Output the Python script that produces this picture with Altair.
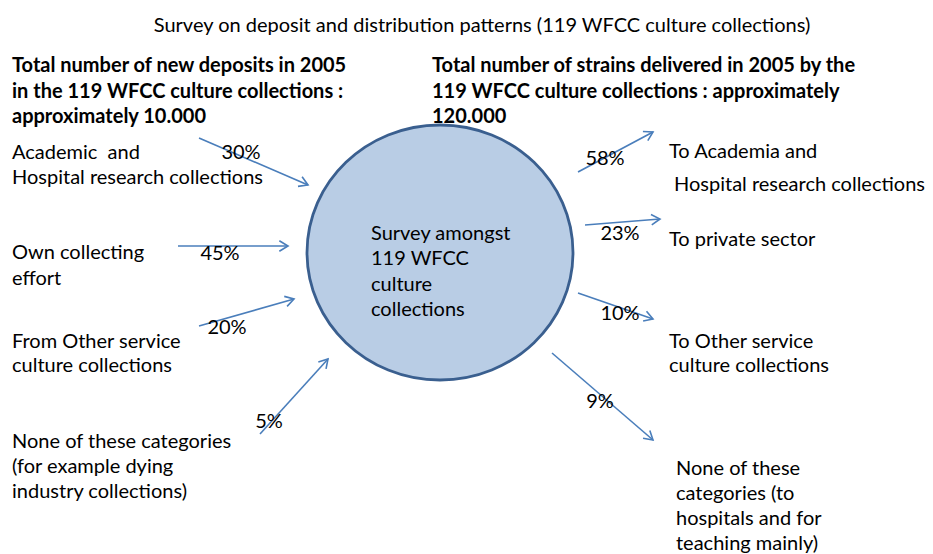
import math
import altair as alt
import pandas as pd

# ---------------- data ----------------
title = "Survey on deposit and distribution patterns (119 WFCC culture collections)"
deposit_heading = [
    "Total number of new deposits in 2005",
    "in the 119 WFCC culture collections :",
    "approximately 10.000",
]
delivery_heading = [
    "Total number of strains delivered in 2005 by the",
    "119 WFCC culture collections : approximately",
    "120.000",
]
center_label = ["Survey amongst", "119 WFCC", "culture", "collections"]

deposit_sources = [
    ["Academic \u00a0and", "Hospital research collections"],
    ["Own collecting", "effort"],
    ["From Other service", "culture collections"],
    ["None of these categories", "(for example dying", "industry collections)"],
]
deposit_share = [30, 45, 20, 5]

delivery_targets = [
    ["To Academia and", "Hospital research collections"],
    ["To private sector"],
    ["To Other service", "culture collections"],
    ["None of these", "categories (to", "hospitals and for", "teaching mainly)"],
]
delivery_share = [58, 23, 10, 9]

# ---------------- layout (page pixels) ----------------
W, H = 917, 546
title_pos = (482, 26)
left_head_pos = (12, 66)
right_head_pos = (432, 66)
head_gap = 25.5
center_pos = (440, 252.5)
center_rx, center_ry = 133, 127.5
center_text_pos = (371, 234)
center_gap = 25.3

dep_label_pos = [[(12, 153), (12, 178)], [(12, 253), (12, 279)],
                 [(12, 342), (12, 366)], [(12, 442), (12, 467), (12, 492)]]
dep_pct_pos = [(241, 153), (220, 254), (227, 328), (269, 422)]
dep_arrow = [((199, 138), (308, 185)), ((178, 246), (288, 246)),
             ((199, 326), (294, 299)), ((260, 434), (328, 359))]

del_label_pos = [[(669, 152), (674, 185)], [(669, 240)],
                 [(669, 342), (669, 366)],
                 [(676, 469), (676, 494), (676, 519), (676, 544)]]
del_pct_pos = [(605, 159), (620, 234), (620, 314), (600, 402)]
del_arrow = [((578, 172), (653, 132)), ((585, 225), (660, 219)),
             ((578, 293), (653, 319)), ((552, 353), (653, 440))]

FONT = "Lato"
BODY = 20.0
ARROW = "#4a7ebb"

# ---------------- tables ----------------
regular_rows = [{"x": title_pos[0], "y": title_pos[1], "t": title, "a": "center"}]
for lines, pos in zip(deposit_sources, dep_label_pos):
    for s, (x, y) in zip(lines, pos):
        regular_rows.append({"x": x, "y": y, "t": s, "a": "left"})
for lines, pos in zip(delivery_targets, del_label_pos):
    for s, (x, y) in zip(lines, pos):
        regular_rows.append({"x": x, "y": y, "t": s, "a": "left"})
for i, s in enumerate(center_label):
    regular_rows.append({"x": center_text_pos[0], "y": center_text_pos[1] + i * center_gap,
                         "t": s, "a": "left"})
for v, (x, y) in zip(deposit_share + delivery_share, dep_pct_pos + del_pct_pos):
    regular_rows.append({"x": x, "y": y, "t": f"{v}%", "a": "center"})
regular = pd.DataFrame(regular_rows)

bold_rows = []
for i, s in enumerate(deposit_heading):
    bold_rows.append({"x": left_head_pos[0], "y": left_head_pos[1] + i * head_gap, "t": s})
for i, s in enumerate(delivery_heading):
    bold_rows.append({"x": right_head_pos[0], "y": right_head_pos[1] + i * head_gap, "t": s})
bold = pd.DataFrame(bold_rows)

arrow_rows, head_rows = [], []
for (p0, p1) in dep_arrow + del_arrow:
    arrow_rows.append({"x": p0[0], "y": p0[1], "x2": p1[0], "y2": p1[1]})
    ang = math.degrees(math.atan2(p1[1] - p0[1], p1[0] - p0[0])) % 360
    head_rows.append({"x": p1[0], "y": p1[1], "ang": ang})
arrows = pd.DataFrame(arrow_rows)
heads = pd.DataFrame(head_rows)

circle = pd.DataFrame([{"x": center_pos[0], "y": center_pos[1]}])

# ---------------- encodings ----------------
xs = alt.Scale(domain=[8, 8 + W], nice=False, zero=False)
ys = alt.Scale(domain=[8 + H, 8], nice=False, zero=False)
X = lambda f="x": alt.X(f"{f}:Q", scale=xs, axis=None)
Y = lambda f="y": alt.Y(f"{f}:Q", scale=ys, axis=None)

k = 0.5523
r = center_ry / center_rx
ellipse = (f"M 1 0 C 1 {k*r} {k} {r} 0 {r} C {-k} {r} -1 {k*r} -1 0 "
           f"C -1 {-k*r} {-k} {-r} 0 {-r} C {k} {-r} 1 {-k*r} 1 0 Z")

circle_layer = alt.Chart(circle).mark_point(
    shape=ellipse, filled=True, fill="#b9cde5", fillOpacity=1,
    stroke="#3a5f8f", strokeWidth=2.8, opacity=1
).encode(x=X(), y=Y(), size=alt.value((2 * center_rx) ** 2))

line_layer = alt.Chart(arrows).mark_rule(color=ARROW, strokeWidth=1.6).encode(
    x=X(), y=Y(), x2="x2:Q", y2="y2:Q")

head_layer = alt.Chart(heads).mark_point(
    shape="M -1 -0.6 L 0 0 L -1 0.6", filled=False, stroke=ARROW,
    strokeWidth=1.6, opacity=1
).encode(x=X(), y=Y(), angle=alt.Angle("ang:Q", scale=None), size=alt.value(300))

text_left = alt.Chart(regular[regular.a == "left"]).mark_text(
    font=FONT, fontSize=BODY, align="left", baseline="middle", color="#000000"
).encode(x=X(), y=Y(), text="t:N")

text_center = alt.Chart(regular[regular.a == "center"]).mark_text(
    font=FONT, fontSize=BODY, align="center", baseline="middle", color="#000000"
).encode(x=X(), y=Y(), text="t:N")

text_bold = alt.Chart(bold).mark_text(
    font=FONT, fontSize=BODY, fontWeight="bold", align="left", baseline="middle",
    color="#000000"
).encode(x=X(), y=Y(), text="t:N")

chart = alt.layer(
    circle_layer, line_layer, head_layer, text_left, text_center, text_bold
).properties(width=W, height=H, padding=0, autosize="none", background="white"
).configure_view(stroke=None)

chart.save("out.html", embed_options={"renderer": "svg", "actions": False})
